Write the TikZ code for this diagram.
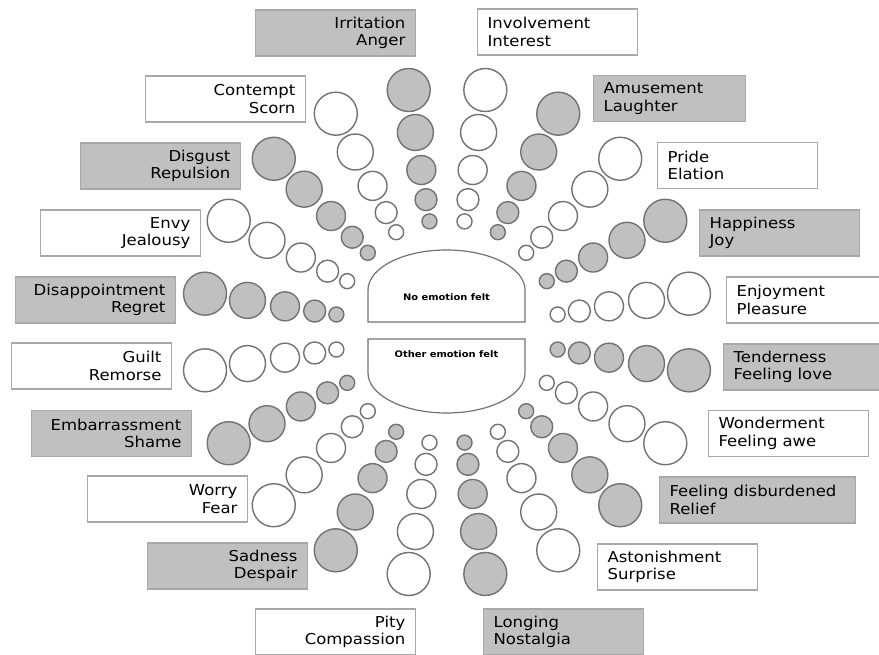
\documentclass[tikz,border=0pt]{standalone}
\usepackage{fontspec}
\newfontfamily\wheelfont[FakeStretch=1.1]{DejaVu Sans}
\usepackage{tikz}
\usetikzlibrary{calc}
\usepackage{xcolor}
\definecolor{fillgray}{HTML}{C0C0C0}
\definecolor{rimgray}{HTML}{727272}
\definecolor{boxgray}{HTML}{A8A8A8}

\begin{document}
\begin{tikzpicture}[x=1pt, y=-1pt,
    ball/.style={circle, draw=rimgray, line width=1.4pt, inner sep=0pt},
    emobox/.style={draw=boxgray, line width=1.2pt, minimum height=46pt, inner xsep=10pt, inner ysep=0pt,
                   font=\wheelfont\fontsize{15}{17.5}\selectfont},
    leftbox/.style={emobox, anchor=east, align=right, text width=#1},
    leftbox/.default=140pt,
    rightbox/.style={emobox, anchor=west, align=left, text width=#1},
    rightbox/.default=140pt,
    hub/.style={draw=rimgray, line width=1.2pt},
    hubtext/.style={font=\wheelfont\bfseries\fontsize{9}{11}\selectfont}]
            \useasboundingbox (0,0) rectangle (879,655);
            \clip (0,0) rectangle (879,655);
            \coordinate (ctr) at (447,332);

            % Centre
            \draw[hub] (368,322) -- (368,290) arc[start angle=180, end angle=0, x radius=78.5pt, y radius=40pt] -- (525,322) -- cycle;
            \draw[hub] (525,339) -- (525,373) arc[start angle=0, end angle=-180, x radius=78.5pt, y radius=40pt] -- (368,339) -- cycle;
            \node[hubtext] (noemo) at (446.5,297) {No emotion felt};
            \node[hubtext] (otheremo) at (446.5,354) {Other emotion felt};

            % Spokes of circles
            \foreach \a/\f [count=\i] in {99/fillgray, 81/white, 63/fillgray, 45/white, 27/fillgray,
                                         9/white, -9/fillgray, -27/white, -45/fillgray, -63/white,
                                         -81/fillgray, -99/white, -117/fillgray, -135/white, -153/fillgray,
                                         -171/white, 171/fillgray, 153/white, 135/fillgray, 117/white}
                \foreach \d/\r [count=\j] in {112/7.5, 134/11, 164/14.5, 202/18, 245/21.5}
                    \node[ball, fill=\f, minimum size=2*\r] (c\i-\j) at ({447+\d*cos(\a)},{332-\d*sin(\a)}) {};

            % Left labels
            \node[leftbox, fill=fillgray] (irritation) at (416,33) {Irritation\\Anger};
            \node[leftbox, fill=white] (contempt) at (306,99) {Contempt\\Scorn};
            \node[leftbox, fill=fillgray] (disgust) at (241,166) {Disgust\\Repulsion};
            \node[leftbox, fill=white] (envy) at (201,233) {Envy\\Jealousy};
            \node[leftbox, fill=fillgray] (disappointment) at (176,300) {Disappointment\\Regret};
            \node[leftbox, fill=white] (guilt) at (172,366) {Guilt\\Remorse};
            \node[leftbox, fill=fillgray] (embarrassment) at (192,433.5) {Embarrassment\\Shame};
            \node[leftbox, fill=white] (worry) at (248,499) {Worry\\Fear};
            \node[leftbox, fill=fillgray] (sadness) at (308,566) {Sadness\\Despair};
            \node[leftbox, fill=white] (pity) at (416,632) {Pity\\Compassion};

            % Right labels
            \node[rightbox, fill=white] (involvement) at (477,32) {Involvement\\Interest};
            \node[rightbox=132pt, fill=fillgray] (amusement) at (593,98.5) {Amusement\\Laughter};
            \node[rightbox, fill=white] (pride) at (657,165.5) {Pride\\Elation};
            \node[rightbox, fill=fillgray] (happiness) at (699,233) {Happiness\\Joy};
            \node[rightbox, fill=white] (enjoyment) at (726,300) {Enjoyment\\Pleasure};
            \node[rightbox, fill=fillgray] (tenderness) at (723,367) {Tenderness\\Feeling love};
            \node[rightbox, fill=white] (wonderment) at (708,433.5) {Wonderment\\Feeling awe};
            \node[rightbox=176pt, fill=fillgray] (relief) at (659,500) {Feeling disburdened\\Relief};
            \node[rightbox, fill=white] (astonishment) at (597,567) {Astonishment\\Surprise};
            \node[rightbox, fill=fillgray] (longing) at (483,632) {Longing\\Nostalgia};
        \end{tikzpicture}
\end{document}
